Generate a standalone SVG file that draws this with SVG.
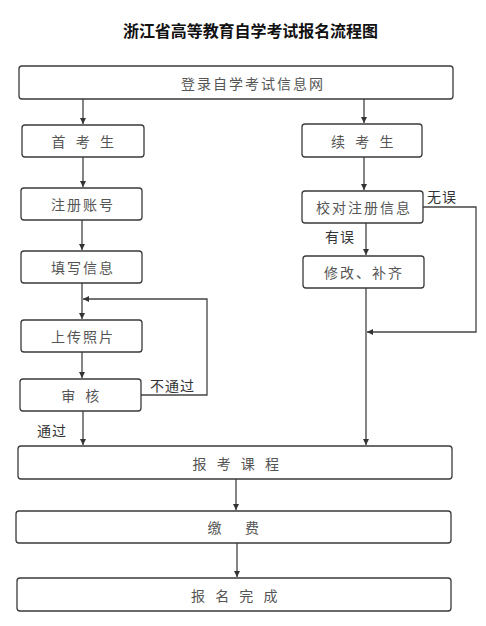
<svg xmlns="http://www.w3.org/2000/svg" width="486" height="626" viewBox="0 0 486 626">
<style>
.box{fill:#fff;stroke:#3a3a3a;stroke-width:1.3}
.t{font-family:"Noto Sans CJK SC","Noto Sans",sans-serif;font-size:14px;fill:#555;text-anchor:middle;dominant-baseline:central}
.sp{letter-spacing:3.5px}
.n{letter-spacing:2px}
.lb{font-family:"Noto Sans CJK SC","Noto Sans",sans-serif;font-size:14px;fill:#333;letter-spacing:1px;dominant-baseline:central}
.ttl{font-family:"Noto Sans CJK SC","Noto Sans",sans-serif;font-size:16px;font-weight:bold;fill:#111;dominant-baseline:central}
.c{fill:none;stroke:#444;stroke-width:1.3}
</style>
<defs>
<marker id="ah" markerUnits="userSpaceOnUse" markerWidth="6" markerHeight="6" refX="6" refY="3" orient="auto">
<path d="M0,0 L6,3 L0,6 Z" fill="#333"/>
</marker>
</defs>
<text class="ttl" x="123" y="29.5" textLength="255" lengthAdjust="spacing">浙江省高等教育自学考试报名流程图</text>
<g id="connectors">
<path class="c" d="M83 99 V124" marker-end="url(#ah)"/>
<path class="c" d="M364 99 V123" marker-end="url(#ah)"/>
<path class="c" d="M83 157 V187" marker-end="url(#ah)"/>
<path class="c" d="M82 220 V250" marker-end="url(#ah)"/>
<path class="c" d="M82 283 V319" marker-end="url(#ah)"/>
<path class="c" d="M82 352 V378" marker-end="url(#ah)"/>
<path class="c" d="M83 411 V445" marker-end="url(#ah)"/>
<path class="c" d="M141 395 H207 V299 H83" marker-end="url(#ah)"/>
<path class="c" d="M364 157 V190" marker-end="url(#ah)"/>
<path class="c" d="M366 223 V255" marker-end="url(#ah)"/>
<path class="c" d="M423 207 H476 V332 H367" marker-end="url(#ah)"/>
<path class="c" d="M366 288 V445" marker-end="url(#ah)"/>
<path class="c" d="M236 479 V510" marker-end="url(#ah)"/>
<path class="c" d="M237 543 V577" marker-end="url(#ah)"/>
</g>
<g id="n-login"><rect class="box" x="19" y="66" width="434" height="33" rx="3"/><text class="t n" x="253" y="82.5">登录自学考试信息网</text></g>
<g id="n-first"><rect class="box" x="22" y="125" width="122" height="32" rx="3"/><text class="t sp" x="84.5" y="141" xml:space="preserve">首 考 生</text></g>
<g id="n-register"><rect class="box" x="21" y="188" width="121" height="32" rx="3"/><text class="t n" x="83" y="204">注册账号</text></g>
<g id="n-fill"><rect class="box" x="21" y="251" width="121" height="32" rx="3"/><text class="t n" x="83" y="267">填写信息</text></g>
<g id="n-photo"><rect class="box" x="21" y="320" width="121" height="32" rx="3"/><text class="t n" x="83" y="336">上传照片</text></g>
<g id="n-review"><rect class="box" x="20" y="379" width="121" height="32" rx="3"/><text class="t sp" x="82" y="395" xml:space="preserve">审 核</text></g>
<g id="n-cont"><rect class="box" x="302" y="124" width="120" height="33" rx="3"/><text class="t sp" x="364" y="141" xml:space="preserve">续 考 生</text></g>
<g id="n-check"><rect class="box" x="302" y="191" width="121" height="32" rx="3"/><text class="t n" x="364" y="207">校对注册信息</text></g>
<g id="n-fix"><rect class="box" x="303" y="256" width="121" height="32" rx="3"/><text class="t n" x="364" y="272">修改、补齐</text></g>
<g id="n-course"><rect class="box" x="18" y="446" width="434" height="33" rx="3"/><text class="t sp" x="237.5" y="463" xml:space="preserve">报 考 课 程</text></g>
<g id="n-pay"><rect class="box" x="16" y="511" width="435" height="32" rx="3"/><text class="t sp" x="235" y="527" xml:space="preserve">缴   费</text></g>
<g id="n-done"><rect class="box" x="17" y="578" width="434" height="33" rx="3"/><text class="t sp" x="236" y="595" xml:space="preserve">报 名 完 成</text></g>
<g id="labels">
<text class="lb" x="150" y="385">不通过</text>
<text class="lb" x="37" y="430">通过</text>
<text class="lb" x="325" y="236">有误</text>
<text class="lb" x="427" y="196">无误</text>
</g>
</svg>
